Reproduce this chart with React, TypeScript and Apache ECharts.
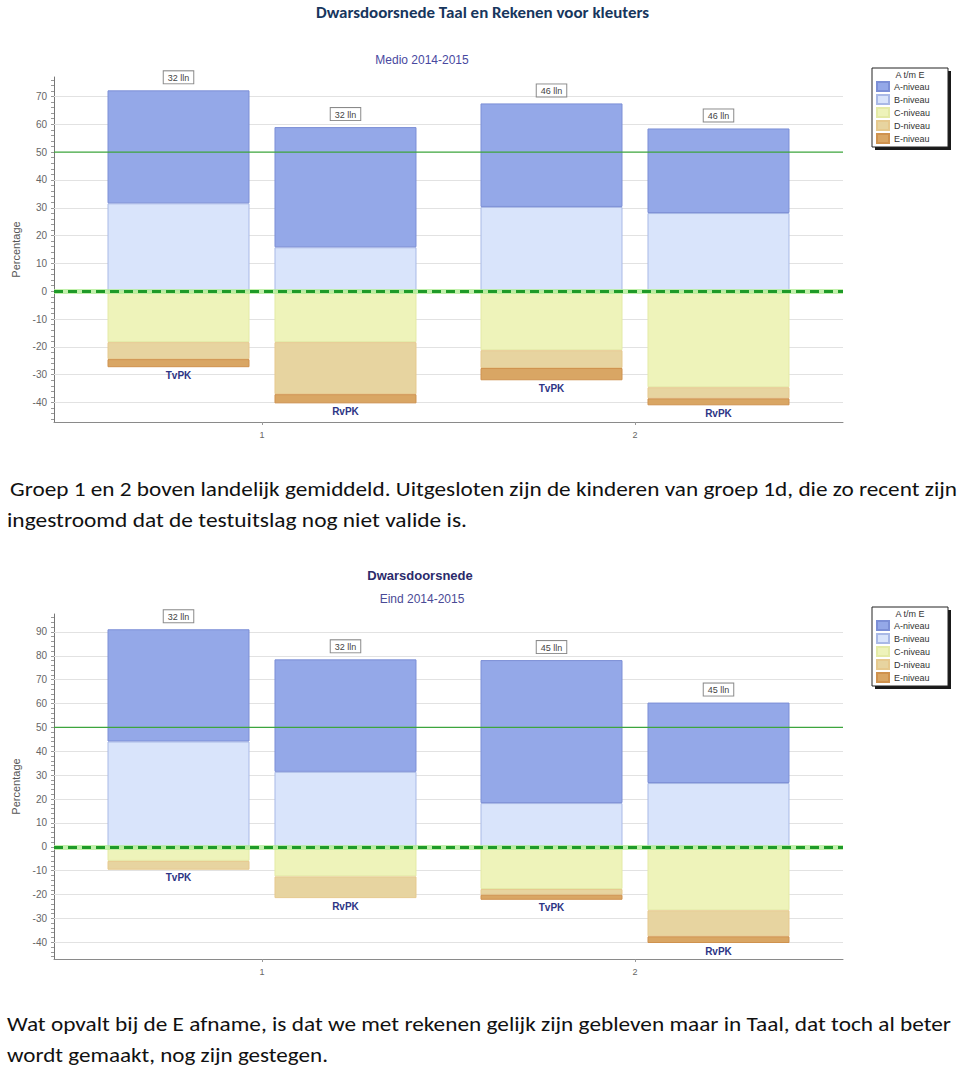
import React, { useEffect, useRef } from "react";
import * as echarts from "echarts";

// ---------- DATA ----------
const categories = ["1", "2"];
const groups = ["TvPK", "RvPK"];
const levelNames = ["A-niveau", "B-niveau", "C-niveau", "D-niveau", "E-niveau"];

const medioYTicks = [-40, -30, -20, -10, 0, 10, 20, 30, 40, 50, 60, 70];
const eindYTicks = [-40, -30, -20, -10, 0, 10, 20, 30, 40, 50, 60, 70, 80, 90];
const referenceLine = 50;

// Medio 2014-2015 (index 0 = groep 1, index 1 = groep 2)
const medioTvA = [40.6, 37.2];
const medioTvB = [31.6, 30.3];
const medioTvC = [-18.3, -21.2];
const medioTvD = [-6.1, -6.4];
const medioTvE = [-2.9, -4.4];
const medioRvA = [43.2, 30.4];
const medioRvB = [15.8, 28.1];
const medioRvC = [-18.3, -34.5];
const medioRvD = [-18.7, -4.0];
const medioRvE = [-3.3, -2.5];
const medioTvCounts = ["32 lln", "46 lln"];
const medioRvCounts = ["32 lln", "46 lln"];

// Eind 2014-2015
const eindTvA = [47.0, 59.9];
const eindTvB = [44.1, 18.3];
const eindTvC = [-5.9, -17.7];
const eindTvD = [-3.7, -2.4];
const eindTvE = [0, -2.1];
const eindRvA = [47.1, 33.7];
const eindRvB = [31.4, 26.7];
const eindRvC = [-12.4, -26.6];
const eindRvD = [-9.1, -10.9];
const eindRvE = [0, -2.8];
const eindTvCounts = ["32 lln", "45 lln"];
const eindRvCounts = ["32 lln", "45 lln"];

// ---------- STYLE ----------
const levelColors = ["#94A8E8", "#D9E4FB", "#EEF3BA", "#E7D4A0", "#D9A664"];
const levelBorders = ["#7C8FD6", "#A9B9E6", "#E4EAA6", "#E6C98E", "#CF924E"];
const FONT = "'Liberation Sans', Arial, sans-serif";

function buildOption(cfg: any) {
  const { stackData, counts, yMin, yMax, yTicks, gridTop, gridHeight, titles, legendTop } = cfg;
  const series: any[] = [];
  const order = [1, 0, 2, 3, 4];
  groups.forEach((g, gi) => {
    const lv = stackData[gi];
    order.forEach((li) => {
      series.push({
        type: "bar",
        name: levelNames[li],
        stack: g,
        xAxisIndex: 1,
        yAxisIndex: 1,
        barWidth: 142,
        barGap: "17.6%",
        z: 2,
        itemStyle: { color: levelColors[li], borderColor: levelBorders[li], borderWidth: 1 },
        emphasis: { disabled: true },
        data: lv[li].map((v: number, ci: number) => {
          const item: any = { value: v === 0 ? "-" : v };
          if (li === 0) {
            item.label = {
              show: true,
              position: "top",
              distance: 7,
              formatter: counts[gi][ci],
              fontSize: 9,
              fontFamily: FONT,
              color: "#444",
              backgroundColor: "#fff",
              borderColor: "#8a8a8a",
              borderWidth: 1,
              padding: [2, 4, 1, 4],
            };
          }
          let lowest = -1;
          [2, 3, 4].forEach((k) => {
            if (lv[k][ci] !== 0) lowest = k;
          });
          if (li === lowest) {
            item.label = {
              show: true,
              position: "bottom",
              distance: 3,
              formatter: g,
              fontSize: 10,
              fontWeight: "bold",
              fontFamily: FONT,
              color: "#2D3585",
            };
          }
          return item;
        }),
      });
    });
  });

  series.push({
    type: "line",
    xAxisIndex: 0,
    yAxisIndex: 0,
    data: [],
    silent: true,
    markLine: {
      silent: true,
      z: 1,
      symbol: ["none", "none"],
      label: { show: false },
      lineStyle: { color: "#E2E2E2", width: 1, type: "solid" },
      data: yTicks.filter((t: number) => t !== 0 && t !== referenceLine).map((t: number) => ({ yAxis: t })),
    },
  });
  // reference line (50) as a plain line series across the frame
  series.push({
    type: "line",
    name: "ref",
    xAxisIndex: 0,
    yAxisIndex: 0,
    z: 6,
    silent: true,
    symbol: "none",
    color: "#3DA53D",
    lineStyle: { color: "#3DA53D", width: 1.2, type: "solid", opacity: 1 },
    emphasis: { disabled: true },
    data: [
      [0, referenceLine],
      [1, referenceLine],
    ],
  });
  series.push({
    type: "line",
    xAxisIndex: 0,
    yAxisIndex: 0,
    data: [],
    silent: true,
    markLine: {
      silent: true,
      z: 6,
      symbol: ["none", "none"],
      label: { show: false },
      data: [
        { yAxis: 0, lineStyle: { color: "#B4EC98", width: 5, type: "solid", opacity: 0.8 } },
        { yAxis: 0, lineStyle: { color: "#1E9A28", width: 3, type: [9, 5], opacity: 1 } },
      ],
    },
  });

  const minorTicks: number[] = [];
  for (let v = Math.ceil(yMin / 2) * 2; v <= yMax; v += 2) minorTicks.push(v);

  const graphic: any[] = titles.map((t: any) => ({
    type: "text",
    x: t.x,
    y: t.y,
    z: 100,
    style: {
      text: t.text,
      fontSize: t.size,
      fontWeight: t.bold ? "bold" : "normal",
      fontFamily: FONT,
      fill: t.color,
      textAlign: "center",
      textVerticalAlign: "middle",
    },
  }));
  graphic.push({
    type: "rect",
    z: 1,
    shape: { x: 875, y: legendTop + 3, width: 76, height: 79 },
    style: { fill: "#1a1a1a" },
    silent: true,
  });
  graphic.push({
    type: "rect",
    z: 2,
    shape: { x: 872, y: legendTop, width: 76, height: 79 },
    style: { fill: "#fff", stroke: "#222", lineWidth: 1 },
    silent: true,
  });
  graphic.push({
    type: "text",
    x: 910,
    y: legendTop + 7,
    z: 100,
    style: {
      text: "A t/m E",
      fontSize: 9,
      fontFamily: FONT,
      fill: "#333",
      textAlign: "center",
      textVerticalAlign: "middle",
    },
  });

  return {
    animation: false,
    textStyle: { fontFamily: FONT },
    grid: [
      { left: 54, right: 117, top: gridTop, height: gridHeight },
      { left: 75.5, right: 138.5, top: gridTop, height: gridHeight },
    ],
    legend: {
      data: levelNames,
      orient: "vertical",
      left: 872,
      top: legendTop,
      padding: [13, 4, 3, 4],
      itemWidth: 12,
      itemHeight: 9,
      itemGap: 2,
      icon: "rect",
      selectedMode: false,
      z: 10,
      textStyle: { fontSize: 9, color: "#333", fontFamily: FONT },
    },
    xAxis: [
      {
        type: "value",
        gridIndex: 0,
        min: 0,
        max: 1,
        axisLine: { show: true, onZero: false, lineStyle: { color: "#8a8a8a", width: 1 } },
        axisTick: { show: false },
        axisLabel: { show: false },
        splitLine: { show: false },
      },
      {
        type: "category",
        gridIndex: 1,
        data: categories,
        axisLine: { show: false, onZero: false },
        axisTick: { show: true, alignWithLabel: true, length: 3, lineStyle: { color: "#999" } },
        axisLabel: { color: "#666", fontSize: 9, margin: 8 },
        splitLine: { show: false },
      },
    ],
    yAxis: [
      {
        type: "value",
        gridIndex: 0,
        min: yMin,
        max: yMax,
        name: "Percentage",
        nameLocation: "middle",
        nameGap: 31,
        nameRotate: 90,
        nameTextStyle: { fontSize: 11, color: "#555", fontFamily: FONT },
        axisLine: { show: true, onZero: false, lineStyle: { color: "#777", width: 1 } },
        axisTick: { show: true, customValues: minorTicks, length: 3, lineStyle: { color: "#999" } },
        axisLabel: { customValues: yTicks, color: "#666", fontSize: 10, margin: 7 },
        splitLine: { show: false },
      },
      {
        type: "value",
        gridIndex: 1,
        min: yMin,
        max: yMax,
        show: false,
        splitLine: { show: false },
      },
    ],
    graphic,
    series,
  };
}

const medioOption = buildOption({
  stackData: [
    [medioTvA, medioTvB, medioTvC, medioTvD, medioTvE],
    [medioRvA, medioRvB, medioRvC, medioRvD, medioRvE],
  ],
  counts: [medioTvCounts, medioRvCounts],
  yMin: -47,
  yMax: 77,
  yTicks: medioYTicks,
  gridTop: 37,
  gridHeight: 345,
  legendTop: 28,
  titles: [{ text: "Medio 2014-2015", x: 422, y: 20, size: 12, color: "#4848A0" }],
});

const eindOption = buildOption({
  stackData: [
    [eindTvA, eindTvB, eindTvC, eindTvD, eindTvE],
    [eindRvA, eindRvB, eindRvC, eindRvD, eindRvE],
  ],
  counts: [eindTvCounts, eindRvCounts],
  yMin: -47,
  yMax: 97.5,
  yTicks: eindYTicks,
  gridTop: 59,
  gridHeight: 345,
  legendTop: 52,
  titles: [
    { text: "Dwarsdoorsnede", x: 420, y: 20, size: 13, bold: true, color: "#2B2B6B" },
    { text: "Eind 2014-2015", x: 422, y: 44, size: 12, color: "#4A4A96" },
  ],
});

function Chart({ option, top, height }: { option: any; top: number; height: number }) {
  const ref = useRef<HTMLDivElement>(null);
  useEffect(() => {
    const chart = echarts.init(ref.current as HTMLDivElement, null, { renderer: "svg" });
    chart.setOption(option);
    return () => chart.dispose();
  }, [option]);
  return <div ref={ref} style={{ position: "absolute", left: 0, top, width: 960, height }} />;
}

const PFONT = "Carlito, Calibri, Lato, sans-serif";

export default function App() {
  return (
    <div style={{ position: "absolute", left: 0, top: 0, width: 960, height: 1070, background: "#fff", overflow: "hidden" }}>
      <svg width={960} height={1070} style={{ position: "absolute", left: 0, top: 0 }}>
        <text x={482.5} y={17.5} textAnchor="middle" fontFamily={PFONT} fontWeight={700} fontSize={16} fill="#17365D" textLength={333} lengthAdjust="spacingAndGlyphs">
          Dwarsdoorsnede Taal en Rekenen voor kleuters
        </text>
        <text x={10} y={496} fontFamily={PFONT} fontSize={21} fill="#111" textLength={947} lengthAdjust="spacingAndGlyphs">
          Groep 1 en 2 boven landelijk gemiddeld. Uitgesloten zijn de kinderen van groep 1d, die zo recent zijn
        </text>
        <text x={7} y={527} fontFamily={PFONT} fontSize={21} fill="#111" textLength={460} lengthAdjust="spacingAndGlyphs">
          ingestroomd dat de testuitslag nog niet valide is.
        </text>
        <text x={7} y={1031} fontFamily={PFONT} fontSize={21} fill="#111" textLength={944} lengthAdjust="spacingAndGlyphs">
          Wat opvalt bij de E afname, is dat we met rekenen gelijk zijn gebleven maar in Taal, dat toch al beter
        </text>
        <text x={7} y={1062} fontFamily={PFONT} fontSize={21} fill="#111" textLength={321} lengthAdjust="spacingAndGlyphs">
          wordt gemaakt, nog zijn gestegen.
        </text>
      </svg>
      <Chart option={medioOption} top={40} height={420} />
      <Chart option={eindOption} top={555} height={425} />
    </div>
  );
}
